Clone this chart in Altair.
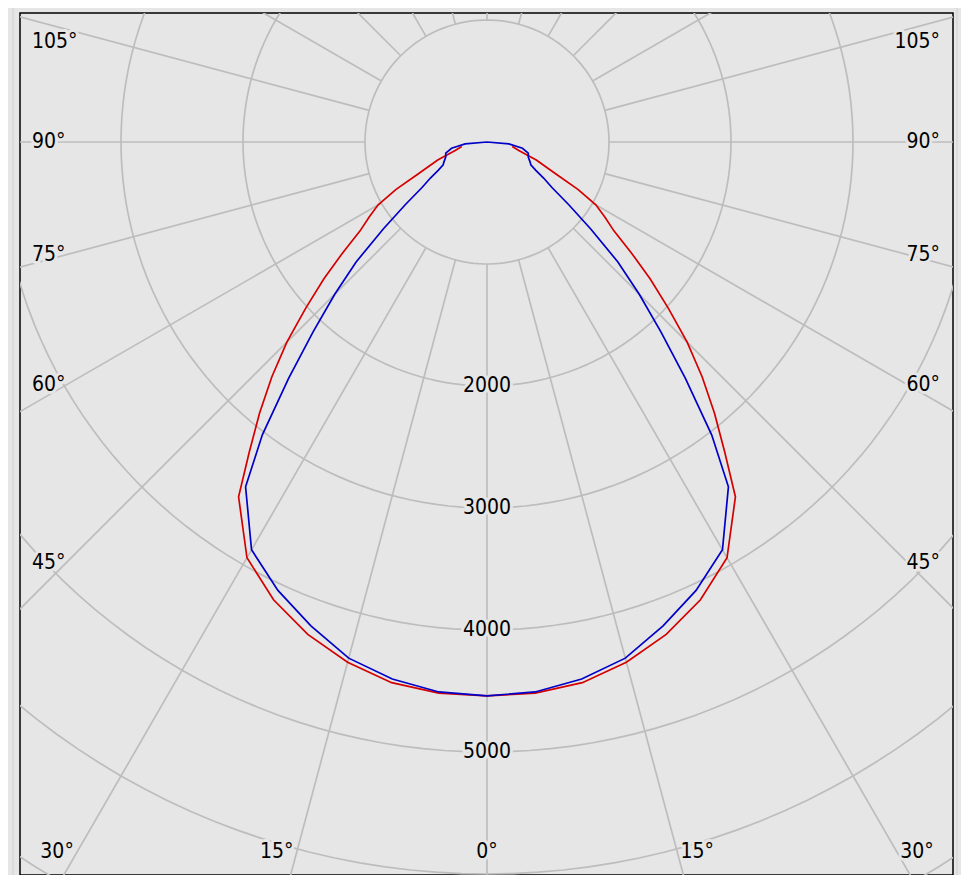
import math
import altair as alt
import pandas as pd

# ---------------- data ----------------
blue_angle_deg = [0, 5, 10, 15, 20, 25, 30, 35, 37.5, 40, 42.5, 45, 47.5, 50, 52.5, 55, 57.5,
                  60, 62.5, 65, 70, 75, 80, 85, 90]
blue_cd = [4540, 4525, 4470, 4380, 4220, 4055, 3860, 3450, 3025, 2530, 2110, 1765, 1455, 1110, 845, 650, 550,
           460, 405, 390, 360, 350, 295, 180, 0]

red_angle_deg = [0, 5, 10, 15, 20, 25, 30, 35, 37.5, 40, 42.5, 45, 47.5, 50, 52.5, 55, 57.5,
                 60, 62.5, 65, 70, 75, 80]
red_cd = [4540, 4535, 4500, 4415, 4295, 4140, 3935, 3550, 3200, 2900, 2610, 2320, 2015, 1745, 1490, 1270, 1145,
          1030, 840, 630, 430, 270, 210]

ring_values = [1000, 2000, 3000, 4000, 5000, 6000, 7000]
ring_label_values = [2000, 3000, 4000, 5000]
spoke_angles = list(range(0, 360, 15))
side_label_angles = [45, 60, 75, 90, 105]
bottom_label_angles = [0, 15, 30]

# ---------------- geometry / styling ----------------
PX = 0.122            # pixels per cd
W, H = 933, 862       # plot area
CX, CY = 467, 129     # pole position inside plot area (px)
xdom = [-CX / PX, (W - CX) / PX]
ydom = [-(H - CY) / PX, CY / PX]

BG = "#e6e6e6"
GRID = "#bdbdbd"
RED = "#d40000"
BLUE = "#0000c8"
FONT = "DejaVu Sans Condensed, Noto Sans, DejaVu Sans"
FS = 21

xs = alt.Scale(domain=xdom, nice=False, zero=False)
ys = alt.Scale(domain=ydom, nice=False, zero=False)
X = lambda f: alt.X(f, type="quantitative", scale=xs, axis=None)
Y = lambda f: alt.Y(f, type="quantitative", scale=ys, axis=None)


def polar_curve(angles, values):
    rows = []
    k = 0
    for a, v in zip(reversed(angles), reversed(values)):   # left half, high angle -> 0
        t = math.radians(a)
        rows.append({"x": -v * math.sin(t), "y": -v * math.cos(t), "o": k})
        k += 1
    for a, v in zip(angles[1:], values[1:]):                # right half, 0 -> high angle
        t = math.radians(a)
        rows.append({"x": v * math.sin(t), "y": -v * math.cos(t), "o": k})
        k += 1
    return pd.DataFrame(rows)


# rings
ring_rows = []
for r in ring_values:
    for i in range(0, 361, 2):
        p = math.radians(i)
        ring_rows.append({"ring": r, "i": i, "x": r * math.sin(p), "y": r * math.cos(p)})
rings_df = pd.DataFrame(ring_rows)

# spokes (from the first ring outwards)
spoke_rows = []
for a in spoke_angles:
    t = math.radians(a)
    r0, r1 = ring_values[0], 9000
    spoke_rows.append({"x": -r0 * math.sin(t), "y": -r0 * math.cos(t),
                       "x2": -r1 * math.sin(t), "y2": -r1 * math.cos(t)})
spokes_df = pd.DataFrame(spoke_rows)

# labels
lab_rows = []
for v in ring_label_values:
    lab_rows.append({"x": 0.0, "y": -float(v), "t": str(v), "al": "center"})
D = 421 / PX
ytop = ydom[1] - 28.5 / PX
for a in side_label_angles:
    t = math.radians(a)
    yv = min(-D * math.cos(t) / math.sin(t), ytop)
    lab_rows.append({"x": xdom[0] + 12 / PX, "y": yv, "t": f"{a}°", "al": "left"})
    lab_rows.append({"x": xdom[1] - 13 / PX, "y": yv, "t": f"{a}°", "al": "right"})
yb = ydom[0] + 23 / PX
for a in bottom_label_angles:
    if a == 0:
        lab_rows.append({"x": 0.0, "y": yb, "t": "0°", "al": "center"})
    else:
        xc = -yb * math.tan(math.radians(a)) + 20 / PX
        lab_rows.append({"x": -xc, "y": yb, "t": f"{a}°", "al": "center"})
        lab_rows.append({"x": xc, "y": yb, "t": f"{a}°", "al": "center"})
labels_df = pd.DataFrame(lab_rows)

rings = alt.Chart(rings_df).mark_line(color=GRID, strokeWidth=1.7, clip=True).encode(
    x=X("x"), y=Y("y"), detail="ring:N", order="i:Q")
spokes = alt.Chart(spokes_df).mark_rule(color=GRID, strokeWidth=1.7, clip=True).encode(
    x=X("x"), y=Y("y"), x2="x2", y2="y2")

layers = [rings, spokes]
for al in ["left", "center", "right"]:
    sub = labels_df[labels_df["al"] == al]
    halo = alt.Chart(sub).mark_text(align=al, baseline="middle", font=FONT, fontSize=FS,
                                    color=BG, stroke=BG, strokeWidth=6, strokeJoin="round").encode(
        x=X("x"), y=Y("y"), text="t:N")
    layers.append(halo)

red = alt.Chart(polar_curve(red_angle_deg, red_cd)).mark_line(
    color=RED, strokeWidth=1.7, clip=True).encode(x=X("x"), y=Y("y"), order="o:Q")
blue = alt.Chart(polar_curve(blue_angle_deg, blue_cd)).mark_line(
    color=BLUE, strokeWidth=1.7, clip=True).encode(x=X("x"), y=Y("y"), order="o:Q")
layers += [red, blue]

for al in ["left", "center", "right"]:
    sub = labels_df[labels_df["al"] == al]
    txt = alt.Chart(sub).mark_text(align=al, baseline="middle", font=FONT, fontSize=FS,
                                   color="#000000").encode(
        x=X("x"), y=Y("y"), text="t:N")
    layers.append(txt)

# faint outer panel edges
edge_l = alt.Chart(labels_df.head(1)).mark_rule(color="#cfcfcf", strokeWidth=1).encode(
    x=alt.value(-7), y=alt.value(-5), y2=alt.value(H + 10))
edge_r = alt.Chart(labels_df.head(1)).mark_rule(color="#cfcfcf", strokeWidth=1).encode(
    x=alt.value(W + 4), y=alt.value(-5), y2=alt.value(H + 10))
layers += [edge_l, edge_r]

chart = alt.layer(*layers).properties(
    width=W, height=H,
    autosize=alt.AutoSizeParams(type="none"),
    padding={"left": 12, "top": 5, "right": 8, "bottom": 0},
    background=BG,
).configure_view(stroke="#000000", strokeWidth=1.5, fill=BG)

chart.save("out.html", embed_options={"renderer": "svg", "actions": False})
